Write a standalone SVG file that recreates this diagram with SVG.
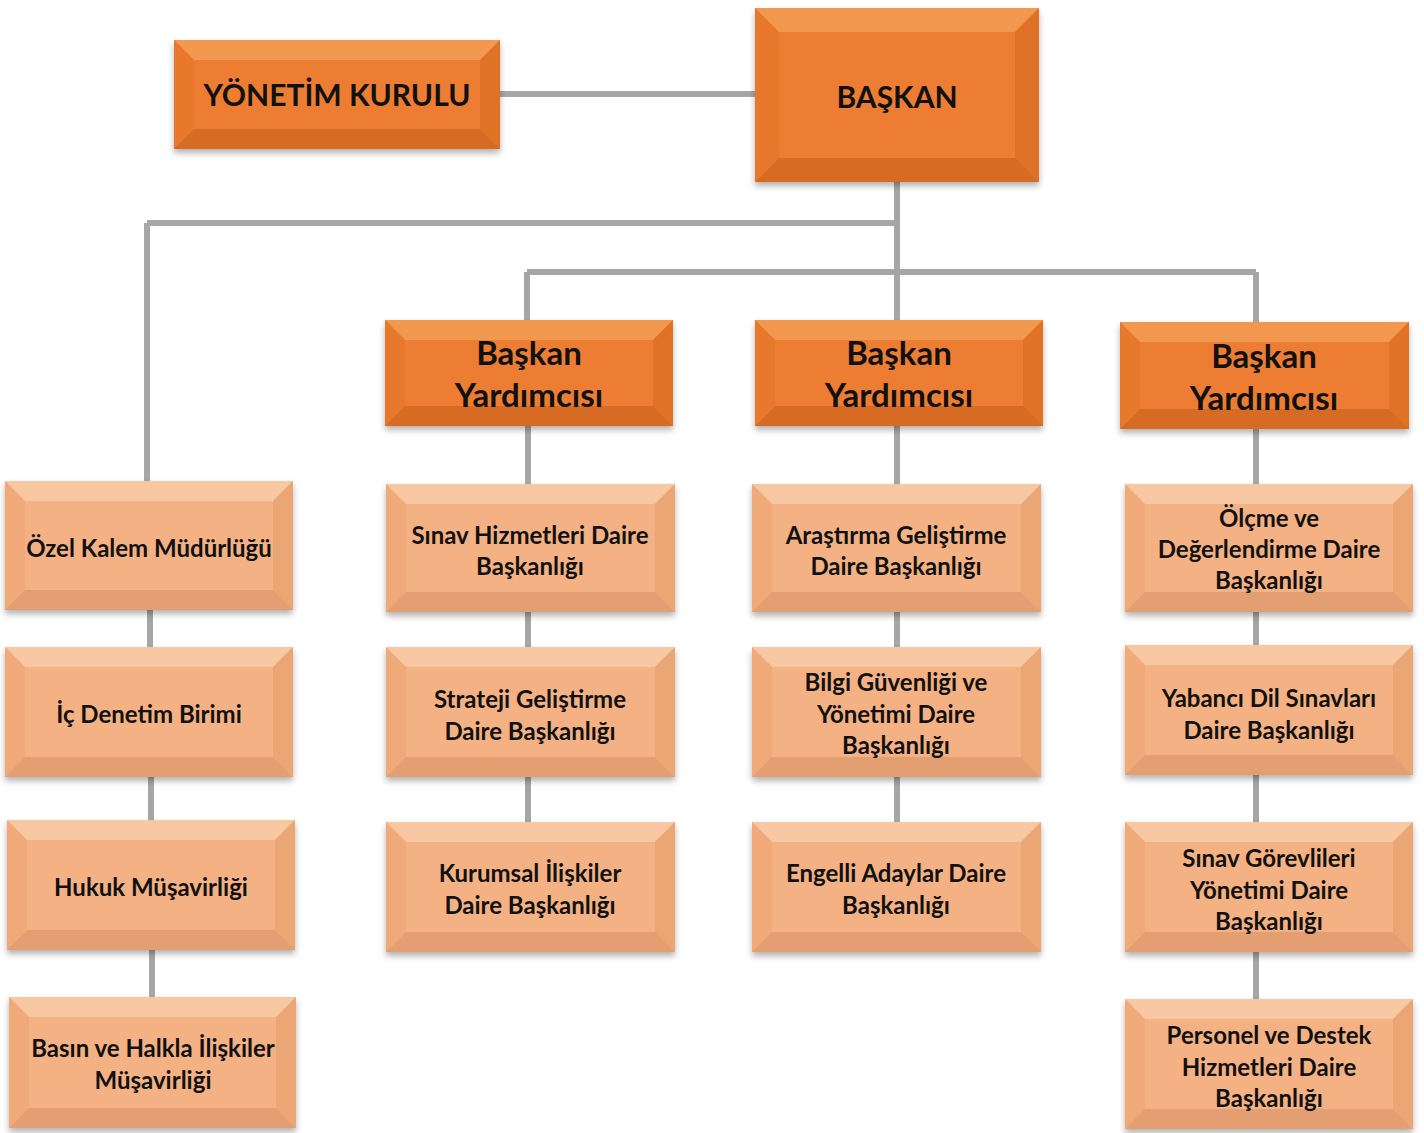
<svg xmlns="http://www.w3.org/2000/svg" width="1424" height="1133" viewBox="0 0 1424 1133">
<defs>
<filter id="sh" x="-10%" y="-10%" width="120%" height="130%"><feDropShadow dx="0" dy="4" stdDeviation="3" flood-color="#000" flood-opacity="0.3"/></filter>
</defs>
<style>
.dk .base{fill:#ED7D31}.dk .t{fill:#F3994F}.dk .l{fill:#E8782C}.dk .r{fill:#E07228}.dk .b{fill:#D76B24}
.lt .base{fill:#F4B183}.lt .t{fill:#F8C8A2}.lt .l{fill:#F0AA7A}.lt .r{fill:#EBA676}.lt .b{fill:#E39F71}
.base{filter:url(#sh)}
text{font-family:Lato,"Open Sans","Liberation Sans",sans-serif;font-weight:700;fill:#111;text-anchor:middle;dominant-baseline:central}
.s{font-size:24px}.L{font-size:30px}.V{font-size:33px}
.con path{stroke:#A6A6A6;stroke-width:6;fill:none}
</style>
<g class="con">
<path d="M500,94H755"/>
<path d="M897,182V320"/>
<path d="M147,223H897"/>
<path d="M147,223V481"/>
<path d="M527,272H1256"/>
<path d="M527,272V320"/>
<path d="M1256,272V322"/>
<path d="M528,426V484M528,612V647M528,777V822"/>
<path d="M897,426V484M897,612V647M897,777V822"/>
<path d="M1256,429V484M1256,612V645M1256,775V822M1256,952V999"/>
<path d="M150,610V647M151,777V820M152,950V997"/>
</g>
<g id="yonetim-kurulu" class="dk">
<rect class="base" x="174" y="40" width="326" height="109"/>
<polygon class="t" points="174,40 500,40 480,60 194,60"/><polygon class="l" points="174,40 194,60 194,129 174,149"/><polygon class="r" points="500,40 500,149 480,129 480,60"/><polygon class="b" points="174,149 194,129 480,129 500,149"/>
<text class="L" x="337" y="94">YÖNETİM KURULU</text>
</g>
<g id="baskan" class="dk">
<rect class="base" x="755" y="8" width="284" height="174"/>
<polygon class="t" points="755,8 1039,8 1015,32 779,32"/><polygon class="l" points="755,8 779,32 779,158 755,182"/><polygon class="r" points="1039,8 1039,182 1015,158 1015,32"/><polygon class="b" points="755,182 779,158 1015,158 1039,182"/>
<text class="L" x="897" y="96">BAŞKAN</text>
</g>
<g id="vp1" class="dk">
<rect class="base" x="385" y="320" width="288" height="106"/>
<polygon class="t" points="385,320 673,320 653,340 405,340"/><polygon class="l" points="385,320 405,340 405,406 385,426"/><polygon class="r" points="673,320 673,426 653,406 653,340"/><polygon class="b" points="385,426 405,406 653,406 673,426"/>
<text class="V" x="529" y="352">Başkan</text><text class="V" x="529" y="394">Yardımcısı</text>
</g>
<g id="vp2" class="dk">
<rect class="base" x="755" y="320" width="288" height="106"/>
<polygon class="t" points="755,320 1043,320 1023,340 775,340"/><polygon class="l" points="755,320 775,340 775,406 755,426"/><polygon class="r" points="1043,320 1043,426 1023,406 1023,340"/><polygon class="b" points="755,426 775,406 1023,406 1043,426"/>
<text class="V" x="899" y="352">Başkan</text><text class="V" x="899" y="394">Yardımcısı</text>
</g>
<g id="vp3" class="dk">
<rect class="base" x="1120" y="322" width="289" height="107"/>
<polygon class="t" points="1120,322 1409,322 1389,342 1140,342"/><polygon class="l" points="1120,322 1140,342 1140,409 1120,429"/><polygon class="r" points="1409,322 1409,429 1389,409 1389,342"/><polygon class="b" points="1120,429 1140,409 1389,409 1409,429"/>
<text class="V" x="1264" y="355">Başkan</text><text class="V" x="1264" y="397">Yardımcısı</text>
</g>
<g id="ozel-kalem" class="lt">
<rect class="base" x="5" y="481" width="288" height="129"/>
<polygon class="t" points="5,481 293,481 273,501 25,501"/><polygon class="l" points="5,481 25,501 25,590 5,610"/><polygon class="r" points="293,481 293,610 273,590 273,501"/><polygon class="b" points="5,610 25,590 273,590 293,610"/>
<text class="s" x="149" y="547">Özel Kalem Müdürlüğü</text>
</g>
<g id="ic-denetim" class="lt">
<rect class="base" x="5" y="647" width="288" height="130"/>
<polygon class="t" points="5,647 293,647 273,667 25,667"/><polygon class="l" points="5,647 25,667 25,757 5,777"/><polygon class="r" points="293,647 293,777 273,757 273,667"/><polygon class="b" points="5,777 25,757 273,757 293,777"/>
<text class="s" x="149" y="713">İç Denetim Birimi</text>
</g>
<g id="hukuk" class="lt">
<rect class="base" x="7" y="820" width="288" height="130"/>
<polygon class="t" points="7,820 295,820 275,840 27,840"/><polygon class="l" points="7,820 27,840 27,930 7,950"/><polygon class="r" points="295,820 295,950 275,930 275,840"/><polygon class="b" points="7,950 27,930 275,930 295,950"/>
<text class="s" x="151" y="886">Hukuk Müşavirliği</text>
</g>
<g id="basin" class="lt">
<rect class="base" x="9" y="997" width="287" height="131"/>
<polygon class="t" points="9,997 296,997 276,1017 29,1017"/><polygon class="l" points="9,997 29,1017 29,1108 9,1128"/><polygon class="r" points="296,997 296,1128 276,1108 276,1017"/><polygon class="b" points="9,1128 29,1108 276,1108 296,1128"/>
<text class="s" x="153" y="1047">Basın ve Halkla İlişkiler</text><text class="s" x="153" y="1079">Müşavirliği</text>
</g>
<g id="sinav-hizmetleri" class="lt">
<rect class="base" x="386" y="484" width="289" height="128"/>
<polygon class="t" points="386,484 675,484 655,504 406,504"/><polygon class="l" points="386,484 406,504 406,592 386,612"/><polygon class="r" points="675,484 675,612 655,592 655,504"/><polygon class="b" points="386,612 406,592 655,592 675,612"/>
<text class="s" x="530" y="534">Sınav Hizmetleri Daire</text><text class="s" x="530" y="565">Başkanlığı</text>
</g>
<g id="strateji" class="lt">
<rect class="base" x="386" y="647" width="289" height="130"/>
<polygon class="t" points="386,647 675,647 655,667 406,667"/><polygon class="l" points="386,647 406,667 406,757 386,777"/><polygon class="r" points="675,647 675,777 655,757 655,667"/><polygon class="b" points="386,777 406,757 655,757 675,777"/>
<text class="s" x="530" y="698">Strateji Geliştirme</text><text class="s" x="530" y="730">Daire Başkanlığı</text>
</g>
<g id="kurumsal" class="lt">
<rect class="base" x="386" y="822" width="289" height="130"/>
<polygon class="t" points="386,822 675,822 655,842 406,842"/><polygon class="l" points="386,822 406,842 406,932 386,952"/><polygon class="r" points="675,822 675,952 655,932 655,842"/><polygon class="b" points="386,952 406,932 655,932 675,952"/>
<text class="s" x="530" y="872">Kurumsal İlişkiler</text><text class="s" x="530" y="904">Daire Başkanlığı</text>
</g>
<g id="arastirma" class="lt">
<rect class="base" x="752" y="484" width="289" height="128"/>
<polygon class="t" points="752,484 1041,484 1021,504 772,504"/><polygon class="l" points="752,484 772,504 772,592 752,612"/><polygon class="r" points="1041,484 1041,612 1021,592 1021,504"/><polygon class="b" points="752,612 772,592 1021,592 1041,612"/>
<text class="s" x="896" y="534">Araştırma Geliştirme</text><text class="s" x="896" y="565">Daire Başkanlığı</text>
</g>
<g id="bilgi" class="lt">
<rect class="base" x="752" y="647" width="289" height="130"/>
<polygon class="t" points="752,647 1041,647 1021,667 772,667"/><polygon class="l" points="752,647 772,667 772,757 752,777"/><polygon class="r" points="1041,647 1041,777 1021,757 1021,667"/><polygon class="b" points="752,777 772,757 1021,757 1041,777"/>
<text class="s" x="896" y="681">Bilgi Güvenliği ve</text><text class="s" x="896" y="713">Yönetimi Daire</text><text class="s" x="896" y="744">Başkanlığı</text>
</g>
<g id="engelli" class="lt">
<rect class="base" x="752" y="822" width="289" height="130"/>
<polygon class="t" points="752,822 1041,822 1021,842 772,842"/><polygon class="l" points="752,822 772,842 772,932 752,952"/><polygon class="r" points="1041,822 1041,952 1021,932 1021,842"/><polygon class="b" points="752,952 772,932 1021,932 1041,952"/>
<text class="s" x="896" y="872">Engelli Adaylar Daire</text><text class="s" x="896" y="904">Başkanlığı</text>
</g>
<g id="olcme" class="lt">
<rect class="base" x="1125" y="484" width="288" height="128"/>
<polygon class="t" points="1125,484 1413,484 1393,504 1145,504"/><polygon class="l" points="1125,484 1145,504 1145,592 1125,612"/><polygon class="r" points="1413,484 1413,612 1393,592 1393,504"/><polygon class="b" points="1125,612 1145,592 1393,592 1413,612"/>
<text class="s" x="1269" y="517">Ölçme ve</text><text class="s" x="1269" y="548">Değerlendirme Daire</text><text class="s" x="1269" y="579">Başkanlığı</text>
</g>
<g id="yabanci-dil" class="lt">
<rect class="base" x="1125" y="645" width="288" height="130"/>
<polygon class="t" points="1125,645 1413,645 1393,665 1145,665"/><polygon class="l" points="1125,645 1145,665 1145,755 1125,775"/><polygon class="r" points="1413,645 1413,775 1393,755 1393,665"/><polygon class="b" points="1125,775 1145,755 1393,755 1413,775"/>
<text class="s" x="1269" y="697">Yabancı Dil Sınavları</text><text class="s" x="1269" y="729">Daire Başkanlığı</text>
</g>
<g id="sinav-gorevlileri" class="lt">
<rect class="base" x="1125" y="822" width="288" height="130"/>
<polygon class="t" points="1125,822 1413,822 1393,842 1145,842"/><polygon class="l" points="1125,822 1145,842 1145,932 1125,952"/><polygon class="r" points="1413,822 1413,952 1393,932 1393,842"/><polygon class="b" points="1125,952 1145,932 1393,932 1413,952"/>
<text class="s" x="1269" y="857">Sınav Görevlileri</text><text class="s" x="1269" y="889">Yönetimi Daire</text><text class="s" x="1269" y="920">Başkanlığı</text>
</g>
<g id="personel" class="lt">
<rect class="base" x="1125" y="999" width="288" height="130"/>
<polygon class="t" points="1125,999 1413,999 1393,1019 1145,1019"/><polygon class="l" points="1125,999 1145,1019 1145,1109 1125,1129"/><polygon class="r" points="1413,999 1413,1129 1393,1109 1393,1019"/><polygon class="b" points="1125,1129 1145,1109 1393,1109 1413,1129"/>
<text class="s" x="1269" y="1034">Personel ve Destek</text><text class="s" x="1269" y="1066">Hizmetleri Daire</text><text class="s" x="1269" y="1097">Başkanlığı</text>
</g>
</svg>
